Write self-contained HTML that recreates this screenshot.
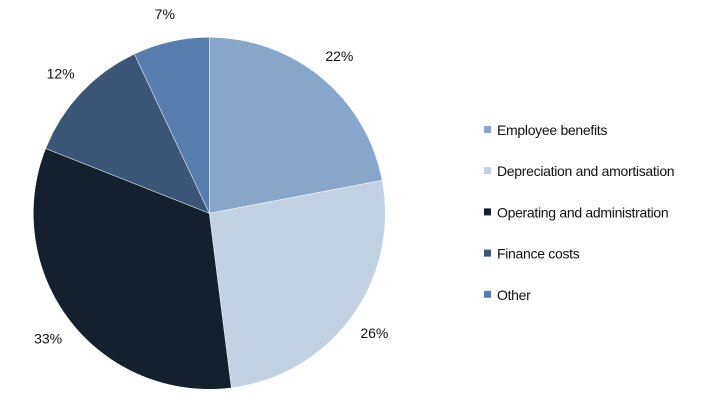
<!DOCTYPE html>
<html><head><meta charset="utf-8"><style>
html,body{margin:0;padding:0;background:#fff;}
svg{display:block;font-family:"Liberation Sans",Arial,sans-serif;}
</style></head><body>
<svg id="chart" width="722" height="417" viewBox="0 0 722 417">
<g id="slices"></g>
<g id="labels"></g>
<g id="legend"></g>
</svg>
<script>
const categories = ["Employee benefits","Depreciation and amortisation","Operating and administration","Finance costs","Other"];
const values = [22, 26, 33, 12, 7];
const valueLabels = ["22%","26%","33%","12%","7%"];
const colors = ["#87a6c9","#c2d2e3","#15202f","#3a5779","#567fb0"];

const NS = "http://www.w3.org/2000/svg";
const cx = 209.3, cy = 213.3, r = 176, lr = 204;
const total = values.reduce((a,b)=>a+b,0);
const pt = (ang, rad) => [cx + rad*Math.sin(ang), cy - rad*Math.cos(ang)];
let start = 0;
const gS = document.getElementById("slices"), gL = document.getElementById("labels"), gG = document.getElementById("legend");
values.forEach((v,i)=>{
  const sweep = v/total*2*Math.PI;
  const end = start + sweep;
  const [x1,y1] = pt(start,r), [x2,y2] = pt(end,r);
  const p = document.createElementNS(NS,"path");
  p.setAttribute("d",`M${cx},${cy} L${x1},${y1} A${r},${r} 0 ${sweep>Math.PI?1:0} 1 ${x2},${y2} Z`);
  p.setAttribute("fill",colors[i]);
  p.setAttribute("stroke","#ffffff");
  p.setAttribute("stroke-width","0.5");
  
  
  gS.appendChild(p);
  const [lx,ly] = pt(start+sweep/2, lr);
  const t = document.createElementNS(NS,"text");
  t.setAttribute("x",lx); t.setAttribute("y",ly+5);
  t.setAttribute("text-anchor","middle");
  t.setAttribute("font-size","14"); t.setAttribute("fill","#111");
  t.textContent = valueLabels[i];
  
  
  gL.appendChild(t);
  start = end;
});
categories.forEach((c,i)=>{
  const y = 130 + i*41.2;
  const g = document.createElementNS(NS,"g");
  
  
  const s = document.createElementNS(NS,"rect");
  s.setAttribute("x",484); s.setAttribute("y",y-4); s.setAttribute("width",7); s.setAttribute("height",7);
  s.setAttribute("fill",colors[i]);
  
  
  const t = document.createElementNS(NS,"text");
  t.setAttribute("x",497); t.setAttribute("y",y+5);
  t.setAttribute("font-size","14"); t.setAttribute("fill","#111");
  t.setAttribute("letter-spacing","-0.3");
  t.textContent = c;
  
  
  g.appendChild(s); g.appendChild(t); gG.appendChild(g);
});
</script>
</body></html>
